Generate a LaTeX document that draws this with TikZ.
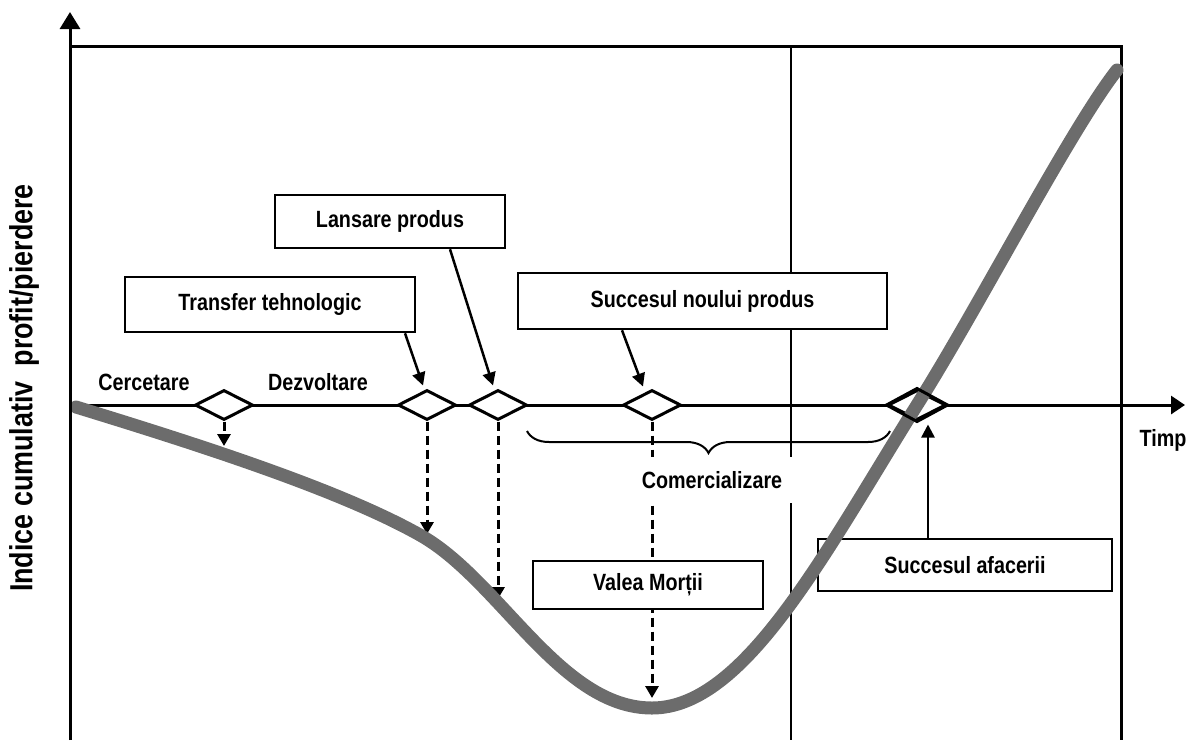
\documentclass[tikz,border=0pt]{standalone}
\usepackage{fontspec}
\setmainfont{Liberation Sans}[FakeStretch=0.84]
\usetikzlibrary{arrows.meta,shapes.geometric,decorations.pathreplacing}
\definecolor{curvegray}{RGB}{108,108,108}
\newcommand\lblfont{\fontsize{23.5}{28}\selectfont\bfseries}
\newcommand\ylblfont{\fontsize{32}{38}\selectfont\bfseries}
\begin{document}
\begin{tikzpicture}[x=1pt,y=-1pt,
  frame/.style={line width=3pt},
  divider/.style={line width=2pt},
  textbox/.style={draw, line width=2.5pt, fill=white, inner sep=0pt, font=\lblfont},
  milestone/.style={diamond, draw, line width=3pt, fill=white, line join=miter,
                    minimum width=58pt, minimum height=30pt, inner sep=0pt},
  drop/.style={line width=3pt, dash pattern=on 9pt off 5pt,
               -{Triangle[length=12pt,width=13pt]}},
  pointer/.style={line width=2.5pt, -{Triangle[length=13pt,width=13pt]}},
  phase/.style={font=\lblfont, inner sep=0pt}]
\useasboundingbox (0,0) rectangle (1193,740);

% frame and axes
\coordinate (yb) at (70,740);
\coordinate (yt) at (70,12);
\coordinate (tl) at (70,46);
\coordinate (tr) at (1121,46);
\coordinate (rb) at (1121,740);
\coordinate (vt) at (791,46);
\coordinate (vb) at (791,740);
\coordinate (ax0) at (70,405);
\coordinate (ax1) at (1185,405);

\draw[frame] (tl) -- (tr) -- (rb);
\draw[divider] (vt) -- (vb);
\draw[frame, -{Triangle[length=14pt,width=18pt]}] (ax0) -- (ax1);

% brace under the commercialisation phase
\coordinate (bra) at (527,431);
\coordinate (brb) at (890,431);
\draw[line width=2pt, decorate, decoration={brace, amplitude=22pt, mirror}] (bra) -- (brb);

% milestones on the time axis
\node[milestone] (d1) at (224,405) {};
\node[milestone] (d2) at (427,405) {};
\node[milestone] (d3) at (498,405) {};
\node[milestone] (d4) at (652,405) {};
\node[milestone] (d5) at (917,405) {};

% drops from milestones to the curve
\coordinate (c1) at (224,446);
\coordinate (c2) at (427,534);
\coordinate (c3) at (498,599);
\coordinate (c4) at (652,698);
\draw[drop] (d1.south) -- (c1);
\draw[drop] (d2.south) -- (c2);
\draw[drop] (d3.south) -- (c3);
\draw[drop] (d4.south) -- (c4);

% phase labels
\node[phase] (cerc) at (144,382) {Cercetare};
\node[phase] (dezv) at (318,382) {Dezvoltare};
\node[phase] (timp) at (1163,440) {Timp};
\node[font=\lblfont, fill=white, inner xsep=10pt, inner ysep=0pt, minimum height=46pt]
  (com) at (712,480) {Comercializare};
\node[rotate=90, font=\ylblfont, inner sep=0pt] (ylab) at (24,388)
  {Indice cumulativ~~profit/pierdere};

% boxed events
\node[textbox, minimum width=290pt, minimum height=55pt] (tt) at (270,304.5) {Transfer tehnologic};
\node[textbox, minimum width=230pt, minimum height=53pt] (lp) at (390,221.5) {Lansare produs};
\node[textbox, minimum width=369pt, minimum height=56pt] (snp) at (702.5,301) {Succesul noului produs};
\node[textbox, minimum width=230pt, minimum height=48pt] (vm) at (648,585) {Valea Morții};
\node[textbox, minimum width=294pt, minimum height=52pt] (sa) at (965,565) {Succesul afacerii};

% pointers from boxes to milestones
\draw[pointer] ([xshift=135pt]tt.south) -- ([xshift=-4pt,yshift=3pt]d2.north);
\draw[pointer] ([xshift=60pt]lp.south) -- ([xshift=-5pt,yshift=3pt]d3.north);
\draw[pointer] ([xshift=-80.5pt]snp.south) -- ([xshift=-9pt,yshift=2pt]d4.north);
\draw[pointer] ([xshift=-37pt]sa.north) -- ([xshift=11pt,yshift=-3pt]d5.south);

% cumulative profit/loss curve
\coordinate (p0) at (76,407);
\coordinate (p1) at (420,535);
\coordinate (p2) at (652,708);
\coordinate (p3) at (917,405);
\coordinate (p4) at (1117,70);
\draw[curvegray, line width=13pt, line cap=round]
  (p0) .. controls (200,445) and (340,490) .. (p1)
       .. controls (500,580) and (560,708) .. (p2)
       .. controls (745,708) and (825,552) .. (p3)
       .. controls (980,305) and (1070,130) .. (p4);
\draw[line width=3pt, line join=miter] (d5.north) -- (d5.east) -- (d5.south) -- (d5.west) -- cycle;

% vertical axis drawn last
\draw[frame, -{Triangle[length=17pt,width=20pt]}] (yb) -- (yt);
\end{tikzpicture}
\end{document}
